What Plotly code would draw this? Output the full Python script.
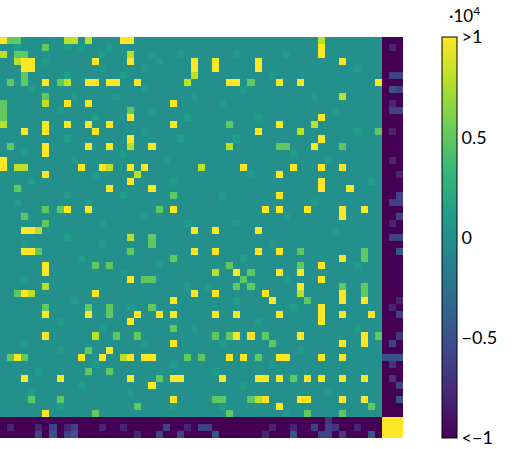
import plotly.graph_objects as go

N = 57
BASE = 0.0
# (row, col) cells by level
yellow = [(0,0),(0,17),(0,18),(3,3),(3,4),(3,13),(3,18),(3,27),(4,3),(4,4),(4,27),
 (6,6),(6,12),(6,13),(6,15),(6,16),(6,19),(9,9),(9,12),(9,24),(11,18),
 (12,6),(12,9),(12,12),(12,15),(12,24),(13,3),(13,6),(13,13),(14,18),
 (15,6),(15,12),(15,15),(15,21),(16,6),(17,0),(18,0),(18,11),(18,14),(18,18),(18,20),
 (19,6),(20,18),(21,15),(21,21),(24,9),(24,12),(24,24),(27,3),(27,4),(27,27),
 (3,30),(4,30),(3,36),(4,36),(3,48),(1,45),(2,45),(6,32),(6,33),(6,39),(6,42),(6,53),
 (11,45),(12,39),(13,36),(14,45),(15,44),(18,34),(18,41),(18,45),(18,48),(19,39),
 (20,45),(21,45),(21,49),(22,39),(24,37),(24,39),(24,43),(24,48),(25,48),(24,51),
 (27,30),(27,36),
 (30,3),(30,4),(30,27),(32,6),(33,6),(34,18),(36,3),(36,13),(36,27),(37,24),
 (39,6),(39,12),(39,19),(39,22),(39,24),(40,18),(42,6),(43,24),(44,15),
 (45,2),(45,11),(45,14),(45,18),(45,20),(45,21),(48,3),(48,8),(48,18),(48,24),(48,25),
 (49,21),(51,24),(53,6),
 (30,30),(30,36),(30,39),(31,48),(32,45),(33,33),(33,39),(33,42),(34,45),(35,42),
 (36,30),(36,37),(36,48),(37,38),(37,48),(37,51),(39,30),(39,33),(39,39),(38,45),
 (39,45),(40,45),(39,48),(39,52),(42,33),(42,35),(42,42),(42,51),(43,51),(43,48),
 (45,32),(45,34),(45,39),(45,40),(45,45),(45,48),(48,31),(48,36),(48,37),(48,39),
 (48,43),(48,45),(48,48),(48,51),(51,37),(51,42),(51,43),(51,48),(51,51),(52,39)]
yellowgreen = [(0,9),(0,10),(0,12),(2,0),(2,18),(3,2),(5,27),(6,9),(6,26),(9,6),
 (12,0),(15,18),(18,2),(18,3),(18,15),(18,28),(19,19),(27,5),(0,45),(8,48),(12,44),
 (13,42),(15,32),(28,18),(35,6),(36,4),(42,13),(33,30),(36,42),(45,17),(51,36)]
green = [(0,1),(0,2),(1,6),(2,2),(2,3),(5,3),(6,1),(6,3),(6,8),(8,6),(9,0),(10,0),
 (10,18),(11,0),(15,1),(21,2),(22,24),(24,6),(24,8),(24,22),(25,3),(26,6),(28,21),
 (29,21),(30,5),(30,18),(31,24),(32,13),(32,15),(34,20),(34,21),(36,2),(38,6),(38,12),
 (38,15),(38,21),(39,15),(41,24),(42,16),(42,19),(44,12),(45,1),(45,3),(45,26),
 (47,12),(47,15),(48,22),(51,4),(51,8),(52,19),(53,13),(6,35),(12,32),(13,53),
 (15,39),(15,40),(15,48),(18,28),(30,42),(30,51),(31,51),(32,32),(32,42),(33,35),
 (34,34),(35,33),(35,35),(35,48),(35,51),(36,51),(37,43),(42,30),(42,32),(42,37),
 (42,53),(43,38),(45,28),(45,36),(48,41),(51,30),(51,31),(51,35),(52,52),(53,32),
 (53,43),(53,48),(33,33)]
# slightly lighter teal background cells
light = [(1,2),(1,9),(1,11),(1,15),(2,14),(2,21),(2,25),(3,6),(3,22),(4,14),(4,20),
 (5,9),(5,17),(7,4),(7,20),(8,10),(8,16),(8,27),(10,8),(10,21),(11,13),(11,26),
 (13,20),(14,9),(14,25),(16,3),(16,17),(17,10),(17,23),(19,13),(20,4),(20,24),
 (22,9),(22,17),(23,2),(23,12),(25,20),(26,14),(26,26),(28,9),(29,3),(29,14),
 (31,11),(32,22),(33,17),(34,3),(35,26),(37,10),(38,18),(40,8),(41,14),(41,27),
 (43,3),(43,20),(44,8),(46,13),(46,24),(47,5),(49,11),(50,4),(50,18),(52,8),(52,24),
 (2,33),(2,40),(4,50),(5,38),(7,34),(8,44),(9,31),(10,47),(11,36),(13,50),(14,33),
 (16,41),(17,46),(19,35),(20,52),(22,31),(23,44),(25,40),(26,33),(27,47),(29,38),
 (31,34),(32,50),(34,40),(35,29),(37,33),(38,41),(40,36),(41,50),(43,31),(44,42),
 (46,38),(47,30),(49,34),(50,46),(52,31),(53,40)]
blue_cells = [(1,55,-0.8),(5,55,-0.6),(5,56,-0.6),(7,55,-0.5),(7,56,-0.6),(9,55,-0.8),
 (10,55,-0.6),(10,56,-0.6),(13,55,-0.8),(17,55,-0.8),(19,56,-0.8),(22,56,-0.6),
 (23,55,-0.6),(23,56,-0.6),(25,56,-0.6),(26,55,-0.8),(28,55,-0.6),(28,56,-0.6),
 (30,56,-0.5),(37,56,-0.8),(38,55,-0.8),(39,56,-0.6),(42,56,-0.7),(43,55,-0.6),
 (45,54,-0.5),(45,55,-0.5),(45,56,-0.5),(46,55,-0.7),(48,55,-0.7),(49,56,-0.6),
 (51,56,-0.5),
 (55,1,-0.8),(55,5,-0.8),(55,7,-0.6),(55,9,-0.8),(55,10,-0.6),(55,14,-0.8),(55,17,-0.8),
 (55,23,-0.6),(55,26,-0.8),(55,28,-0.6),(56,5,-0.6),(56,7,-0.5),(56,9,-0.6),
 (56,10,-0.5),(56,19,-0.8),(56,22,-0.6),(56,25,-0.6),(55,29,-0.6),(55,38,-0.8),
 (55,41,-0.8),(55,44,-0.6),(55,46,-0.6),(55,47,-0.7),(55,50,-0.8),(54,46,-0.7),
 (56,30,-0.5),(56,37,-0.8),(56,41,-0.5),(56,45,-0.6),(56,46,-0.6),(56,48,-0.7),
 (56,52,-0.5)]
edge_start = 54  # first row/col of negative border
z = [[BASE]*N for _ in range(N)]
for r in range(N):
    for c in range(N):
        if r >= edge_start or c >= edge_start:
            z[r][c] = -1.2
        if r >= edge_start and c >= edge_start:
            z[r][c] = 1.2
for r, c in light: z[r][c] = 0.1
for r, c in green: z[r][c] = 0.5
for r, c in yellowgreen: z[r][c] = 0.8
for r, c in yellow: z[r][c] = 1.2
for r, c, v in blue_cells: z[r][c] = v

fig = go.Figure(go.Heatmap(
    z=z, colorscale="Viridis", zmin=-1, zmax=1,
    colorbar=dict(x=1.097, xanchor="left", xpad=0, ypad=0, y=0.5, len=1, lenmode="fraction",
                  thickness=15, outlinewidth=1, outlinecolor="black",
                  tickvals=[-1, -0.5, 0, 0.5, 1],
                  ticktext=["<−1", "−0.5", "0", "0.5", ">1"],
                  ticks="", tickfont=dict(size=18, family="Lato", color="black"))))
fig.update_layout(width=520, height=449,
                  margin=dict(l=0, r=117, t=37, b=11, pad=0, autoexpand=False),
                  plot_bgcolor="white", paper_bgcolor="white",
                  xaxis=dict(visible=False, range=[-0.5, N-0.5]),
                  yaxis=dict(visible=False, autorange="reversed"),
                  annotations=[dict(text="·10<sup>4</sup>", x=1.11, y=1.0, xref="paper",
                                    yref="paper", xanchor="left", yanchor="bottom", yshift=9,
                                    showarrow=False, font=dict(size=17, family="Lato", color="black"))])
fig.write_html("out.html", config={"displayModeBar": False},
               post_script="document.body.style.margin='0';document.body.style.overflow='hidden';")
